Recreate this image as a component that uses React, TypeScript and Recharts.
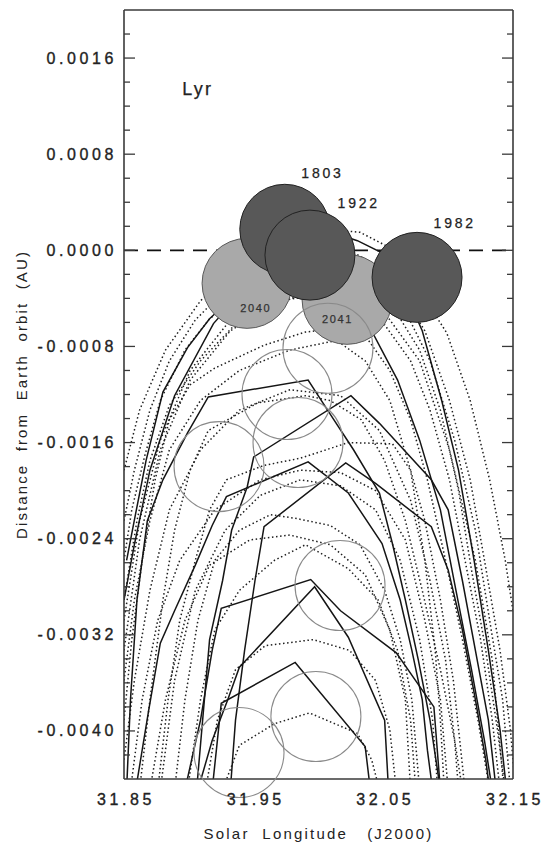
import React from 'react';
import { ComposedChart, Line, Scatter, XAxis, YAxis, ReferenceLine } from 'recharts';

const FONT = '"Liberation Sans", Arial, Helvetica, sans-serif';

// ---- axis ticks ----
const xLabelTicks = [31.85, 31.95, 32.05, 32.15];
const xMajorTicks = [31.9, 31.95, 32.0, 32.05, 32.1];
const xMinorTicks = [31.86, 31.87, 31.88, 31.89, 31.91, 31.92, 31.93, 31.94, 31.96, 31.97, 31.98, 31.99,
  32.01, 32.02, 32.03, 32.04, 32.06, 32.07, 32.08, 32.09, 32.11, 32.12, 32.13, 32.14];
const yLabelTicks = [-0.004, -0.0032, -0.0024, -0.0016, -0.0008, 0, 0.0008, 0.0016];
const yMinorTicks = [-0.0042, -0.0038, -0.0036, -0.0034, -0.003, -0.0028, -0.0026, -0.0022, -0.002, -0.0018,
  -0.0014, -0.0012, -0.001, -0.0006, -0.0004, -0.0002, 0.0002, 0.0004, 0.0006, 0.001, 0.0012, 0.0014, 0.0018];

const xDomain = [31.85, 32.15];
const yDomain = [-0.0044, 0.002];

// ---- circles (centres) ----
const darkCircles = [[31.974, 0.000175], [31.9934, -0.00004], [32.076, -0.000225]];
const lightCircles = [[31.9449, -0.000275], [32.022, -0.000408]];
const openCircles = [[32.0073, -0.000815], [31.9757, -0.0012], [31.9842, -0.0016], [31.9233, -0.0018],
  [32.0166, -0.00279], [31.998, -0.00388], [31.9387, -0.00418]];

// ---- labels ----
const titleLabel = [{ t: 'Lyr', x: 31.906, y: 0.00134 }];
const yearLabels = [{ t: '1803', x: 32.002, y: 0.00064 }, { t: '1922', x: 32.03, y: 0.00039 }, { t: '1982', x: 32.104, y: 0.00023 }];
const innerYearLabels = [{ t: '2040', x: 31.951, y: -0.00048 }, { t: '2041', x: 32.014, y: -0.00057 }];

// ---- solid trails ----
const s1 = [[31.852, -0.00258], [31.859, -0.00219], [31.867, -0.00175], [31.88, -0.00118], [31.899, -0.00081], [31.916, -0.00057], [31.937, -0.00036], [31.955, -0.00015], [31.991, 0.00022], [32.03, 0.00008], [32.049, -0.00002], [32.063, -0.00025], [32.08, -0.00067], [32.095, -0.00125], [32.108, -0.00183], [32.12, -0.00258], [32.131, -0.00333], [32.14, -0.00399], [32.145, -0.00449]];
const s2 = [[31.85, -0.00291], [31.858, -0.00245], [31.87, -0.00183], [31.889, -0.00121], [31.919, -0.00061], [31.947, -0.00027], [31.991, -0.00022], [32.02, -0.00042], [32.041, -0.00067], [32.061, -0.00108], [32.078, -0.00158], [32.094, -0.00216], [32.106, -0.00283], [32.118, -0.00349], [32.128, -0.00408], [32.134, -0.00449]];
const s3 = [[31.852, -0.00449], [31.855, -0.00374], [31.86, -0.00291], [31.868, -0.00225], [31.88, -0.00191], [31.899, -0.00152], [31.915, -0.00122], [31.992, -0.00108], [32.007, -0.00133], [32.027, -0.00166], [32.047, -0.00202], [32.057, -0.00244], [32.067, -0.00291], [32.077, -0.00341], [32.086, -0.00391], [32.094, -0.00449]];
const s4 = [[31.906, -0.00449], [31.916, -0.00324], [31.926, -0.00275], [31.933, -0.00233], [31.945, -0.00197], [31.95, -0.00172], [32.025, -0.00121], [32.047, -0.00144], [32.087, -0.00191], [32.1, -0.00216], [32.111, -0.00275], [32.121, -0.00333], [32.131, -0.00391], [32.137, -0.00449]];
const s5 = [[31.859, -0.00449], [31.869, -0.00383], [31.878, -0.00327], [31.889, -0.003], [31.905, -0.00262], [31.918, -0.00229], [31.929, -0.00205], [31.992, -0.00176], [32.023, -0.00202], [32.049, -0.00244], [32.063, -0.00291], [32.072, -0.00333], [32.08, -0.00374], [32.084, -0.00416], [32.088, -0.00449]];
const s6 = [[31.932, -0.00449], [31.936, -0.00391], [31.943, -0.00333], [31.951, -0.00275], [31.958, -0.0023], [32.021, -0.00177], [32.044, -0.00194], [32.087, -0.0023], [32.1, -0.00266], [32.111, -0.00316], [32.121, -0.00374], [32.129, -0.00424], [32.132, -0.00449]];
const s7 = [[31.897, -0.00449], [31.909, -0.00391], [31.918, -0.00333], [31.925, -0.00298], [31.994, -0.00274], [32.017, -0.003], [32.06, -0.00335], [32.089, -0.0038], [32.094, -0.00449]];
const s8 = [[31.907, -0.00449], [31.918, -0.00408], [31.93, -0.00374], [31.939, -0.00347], [31.997, -0.0028], [32.023, -0.00322], [32.051, -0.00391], [32.054, -0.00449]];
const s9 = [[31.918, -0.00449], [31.922, -0.00408], [31.925, -0.00377], [31.982, -0.00343], [32.036, -0.00413], [32.04, -0.00449]];

// ---- dotted trails ----
const d1 = [[31.85, -0.00225], [31.858, -0.00183], [31.87, -0.00133], [31.885, -0.00092], [31.905, -0.00058], [31.928, -0.00033], [31.955, -0.0001], [31.982, 0.00004], [32.001, 0.00008], [32.024, 0.0], [32.044, -0.00012], [32.063, -0.00033], [32.082, -0.00067], [32.101, -0.00125], [32.117, -0.00191], [32.128, -0.00258], [32.14, -0.00333], [32.148, -0.00399], [32.152, -0.00449]];
const d2 = [[31.85, -0.00258], [31.856, -0.00216], [31.866, -0.00171], [31.878, -0.00125], [31.897, -0.00083], [31.916, -0.00057], [31.939, -0.00037], [31.97, -0.00021], [31.993, -0.0001], [32.017, -0.00015], [32.04, -0.00029], [32.059, -0.0005], [32.078, -0.00083], [32.094, -0.00133], [32.108, -0.002], [32.118, -0.00266], [32.129, -0.00333], [32.138, -0.00399], [32.144, -0.00449]];
const d3 = [[31.85, -0.00291], [31.86, -0.00225], [31.87, -0.00175], [31.885, -0.00129], [31.909, -0.00092], [31.939, -0.00058], [31.97, -0.00042], [32.001, -0.00037], [32.028, -0.00046], [32.051, -0.00062], [32.071, -0.00092], [32.086, -0.00133], [32.101, -0.00191], [32.113, -0.00258], [32.125, -0.00324], [32.134, -0.00391], [32.14, -0.00449]];
const d4 = [[31.85, -0.00391], [31.856, -0.00324], [31.864, -0.00258], [31.874, -0.00191], [31.885, -0.00141], [31.901, -0.00112], [31.92, -0.00098], [31.958, -0.00079], [31.99, -0.00068], [32.023, -0.00064], [32.034, -0.00068], [32.055, -0.001], [32.071, -0.00141], [32.084, -0.00191], [32.098, -0.00258], [32.111, -0.00324], [32.123, -0.00391], [32.132, -0.00449]];
const d5 = [[31.862, -0.00449], [31.87, -0.00374], [31.88, -0.00291], [31.889, -0.00233], [31.901, -0.00183], [31.915, -0.0015], [31.953, -0.00127], [31.99, -0.00121], [32.009, -0.00125], [32.033, -0.00141], [32.051, -0.00175], [32.067, -0.00225], [32.08, -0.00283], [32.094, -0.00349], [32.105, -0.00408], [32.111, -0.00449]];
const d6 = [[31.876, -0.00449], [31.884, -0.00374], [31.893, -0.00308], [31.905, -0.00258], [31.916, -0.00216], [31.929, -0.00191], [31.958, -0.00179], [31.986, -0.00173], [32.023, -0.0016], [32.057, -0.00161], [32.071, -0.00183], [32.082, -0.00225], [32.094, -0.00291], [32.104, -0.00358], [32.113, -0.00449]];
const d7 = [[31.889, -0.00449], [31.897, -0.00374], [31.907, -0.00308], [31.92, -0.00258], [31.939, -0.00233], [31.963, -0.0022], [31.982, -0.00223], [32.009, -0.00229], [32.032, -0.00245], [32.051, -0.00283], [32.063, -0.00324], [32.072, -0.00374], [32.078, -0.00449]];
const d8 = [[31.899, -0.00449], [31.909, -0.00374], [31.92, -0.00316], [31.939, -0.00283], [31.966, -0.00258], [31.99, -0.00245], [32.023, -0.00265], [32.046, -0.00291], [32.061, -0.00333], [32.071, -0.00391], [32.075, -0.00449]];
const d9 = [[31.913, -0.00449], [31.922, -0.00391], [31.936, -0.00349], [31.959, -0.00329], [31.996, -0.00324], [32.024, -0.00333], [32.044, -0.00358], [32.055, -0.00399], [32.06, -0.00449]];
const d10 = [[31.926, -0.00449], [31.939, -0.00412], [31.966, -0.00394], [31.993, -0.00385], [32.03, -0.00402], [32.041, -0.00424], [32.047, -0.00449]];
const d11 = [[31.85, -0.00183], [31.862, -0.00133], [31.882, -0.00083], [31.909, -0.00042], [31.939, -0.00012], [31.97, 0.00008], [32.001, 0.00018], [32.032, 0.00015], [32.059, 0.0], [32.078, -0.00033], [32.099, -0.00069], [32.117, -0.00125], [32.132, -0.00191], [32.144, -0.00258], [32.15, -0.003]];
const d12 = [[31.85, -0.00358], [31.858, -0.00291], [31.87, -0.00225], [31.885, -0.00166], [31.909, -0.00125], [31.939, -0.001], [31.978, -0.00083], [32.014, -0.00075], [32.036, -0.00092], [32.055, -0.00125], [32.071, -0.00183], [32.082, -0.00258], [32.09, -0.00333], [32.094, -0.00391], [32.097, -0.00449]];
const d13 = [[31.85, -0.00333], [31.862, -0.00241], [31.878, -0.00166], [31.901, -0.00108], [31.932, -0.00067], [31.97, -0.00042], [32.009, -0.00033], [32.047, -0.00046], [32.078, -0.00092], [32.101, -0.00166], [32.121, -0.00258], [32.134, -0.00341], [32.143, -0.00449]];
const d14 = [[31.878, -0.00449], [31.889, -0.00358], [31.905, -0.00283], [31.928, -0.00233], [31.955, -0.00204], [31.986, -0.00191], [32.017, -0.00196], [32.044, -0.00216], [32.063, -0.00258], [32.078, -0.00324], [32.088, -0.00391], [32.092, -0.00449]];
const d15 = [[31.85, -0.00308], [31.862, -0.00225], [31.878, -0.00158], [31.901, -0.001], [31.932, -0.00058], [31.97, -0.00029], [32.009, -0.00012], [32.04, -0.00017], [32.063, -0.00042], [32.086, -0.00092], [32.105, -0.00158], [32.121, -0.00233], [32.132, -0.00308], [32.142, -0.00374], [32.148, -0.00449]];
const d16 = [[31.85, -0.00424], [31.858, -0.00358], [31.87, -0.00283], [31.885, -0.00216], [31.909, -0.00166], [31.939, -0.00133], [31.978, -0.00116], [32.017, -0.00121], [32.047, -0.0015], [32.071, -0.00208], [32.086, -0.00275], [32.098, -0.00341], [32.105, -0.00408], [32.108, -0.00449]];
const d17 = [[31.87, -0.00449], [31.882, -0.00374], [31.897, -0.00308], [31.916, -0.00262], [31.947, -0.00241], [31.978, -0.00237], [32.009, -0.00245], [32.036, -0.0027], [32.055, -0.00316], [32.067, -0.00374], [32.071, -0.00449]];
const d18 = [[31.855, -0.00449], [31.864, -0.00374], [31.876, -0.00308], [31.893, -0.00258], [31.92, -0.00216], [31.955, -0.00191], [31.986, -0.00183], [32.017, -0.00185], [32.044, -0.002], [32.067, -0.00241], [32.082, -0.00308], [32.094, -0.00374], [32.1, -0.00449]];

const solidSeries = [s1, s2, s3, s4, s5, s6, s7, s8, s9];
const dottedSeries = [d1, d2, d3, d4, d5, d6, d7, d8, d9, d10, d11, d12, d13, d14, d15, d16, d17, d18];

const toPts = (a: number[][]) => a.map(([x, y]) => ({ x, y }));

const FRAME = '#3a3a3a';
const xMajorSet = new Set(xMajorTicks);
const yMajorSet = new Set(yLabelTicks);

const xTickMark = (dir: number) => (p: any) => {
  const len = xMajorSet.has(p.payload.value) ? 11 : 6;
  return <line x1={p.x} y1={p.y} x2={p.x} y2={p.y + dir * len} stroke={FRAME} strokeWidth={1.3} />;
};
const yTickMark = (dir: number) => (p: any) => {
  const len = yMajorSet.has(p.payload.value) ? 11 : 6;
  return <line x1={p.x} y1={p.y} x2={p.x + dir * len} y2={p.y} stroke={FRAME} strokeWidth={1.3} />;
};

const yLabelTick = (p: any) => (
  <text x={p.x} y={p.y} textAnchor="end" dominantBaseline="central" fontFamily={FONT} fontSize={16}
    letterSpacing={3.6} fill="#222" stroke="#222" strokeWidth={0.35}>{Number(p.payload.value).toFixed(4)}</text>
);
const xLabelTick = (p: any) => (
  <text x={p.x} y={p.y} dx={2} textAnchor="middle" dominantBaseline="central" fontFamily={FONT} fontSize={16}
    letterSpacing={3.6} fill="#222" stroke="#222" strokeWidth={0.35}>{Number(p.payload.value).toFixed(2)}</text>
);

const textShape = (size: number, color: string, ls: number) => (p: any) => (
  <text x={p.cx} y={p.cy} dx={ls / 2} textAnchor="middle" dominantBaseline="central" fontFamily={FONT}
    fontSize={size} letterSpacing={ls} fill={color} stroke={color} strokeWidth={0.25}>{p.payload.t}</text>
);

const circleShape = (fill: string, stroke: string) => (p: any) => (
  <circle cx={p.cx} cy={p.cy} r={45} fill={fill} stroke={stroke} strokeWidth={1} />
);

export default function App() {
  return (
    <div style={{ position: 'absolute', left: 0, top: 0, width: 545, height: 848, background: '#fff' }}>
      <ComposedChart width={545} height={848} margin={{ top: 10, right: 32, bottom: 0, left: 0 }}>
        {/* main labelled axes */}
        <XAxis xAxisId="x" dataKey="x" type="number" domain={xDomain} allowDataOverflow ticks={xLabelTicks}
          interval={0} height={69} tickLine={false} tickSize={0} tickMargin={20} tick={xLabelTick}
          axisLine={{ stroke: FRAME, strokeWidth: 1.6 }}
          label={(lp: any) => {
            const vb = lp.viewBox || {};
            return (
              <text x={vb.x + vb.width / 2} y={vb.y + 54} textAnchor="middle" dominantBaseline="central"
                fontFamily={FONT} fontSize={15} letterSpacing={2.2} fill="#222" style={{ whiteSpace: 'pre' }}>
                {'Solar  Longitude   (J2000)'}
              </text>
            );
          }} />
        <YAxis yAxisId="y" dataKey="y" type="number" domain={yDomain} allowDataOverflow ticks={yLabelTicks}
          interval={0} width={124} tickLine={false} tickSize={0} tickMargin={7} tick={yLabelTick}
          axisLine={{ stroke: FRAME, strokeWidth: 1.6 }}
          label={(lp: any) => {
            const vb = lp.viewBox || {};
            const cx = vb.x + 21;
            const cy = vb.y + vb.height / 2;
            return (
              <text x={cx} y={cy} textAnchor="middle" dominantBaseline="central" transform={`rotate(-90 ${cx} ${cy})`}
                fontFamily={FONT} fontSize={15} letterSpacing={2.1} fill="#222" style={{ whiteSpace: 'pre' }}>
                {'Distance  from  Earth  orbit  (AU)'}
              </text>
            );
          }} />

        {/* inward tick marks on all four sides */}
        <XAxis xAxisId="tb" orientation="bottom" mirror height={1} type="number" domain={xDomain} allowDataOverflow
          ticks={[...xMajorTicks, ...xMinorTicks]} interval={0} tickLine={false} tickSize={0} tickMargin={0}
          axisLine={false} tick={xTickMark(-1)} />
        <XAxis xAxisId="tt" orientation="top" mirror height={1} type="number" domain={xDomain} allowDataOverflow
          ticks={[...xMajorTicks, ...xMinorTicks]} interval={0} tickLine={false} tickSize={0} tickMargin={0}
          axisLine={{ stroke: FRAME, strokeWidth: 1.6 }} tick={xTickMark(1)} />
        <YAxis yAxisId="tl" orientation="left" mirror width={1} type="number" domain={yDomain} allowDataOverflow
          ticks={[...yLabelTicks, ...yMinorTicks]} interval={0} tickLine={false} tickSize={0} tickMargin={0}
          axisLine={false} tick={yTickMark(1)} />
        <YAxis yAxisId="tr" orientation="right" mirror width={1} type="number" domain={yDomain} allowDataOverflow
          ticks={[...yLabelTicks, ...yMinorTicks]} interval={0} tickLine={false} tickSize={0} tickMargin={0}
          axisLine={{ stroke: FRAME, strokeWidth: 1.6 }} tick={yTickMark(-1)} />

        {/* hidden axes for circles and labels (not clipped) */}
        <XAxis xAxisId="s" dataKey="x" type="number" domain={xDomain} hide height={0} />
        <YAxis yAxisId="s" dataKey="y" type="number" domain={yDomain} hide width={0} />

        <Scatter data={toPts(lightCircles)} xAxisId="s" yAxisId="s" isAnimationActive={false}
          shape={circleShape('#a9a9a9', '#5a5a5a')} />
        <Scatter data={toPts(darkCircles)} xAxisId="s" yAxisId="s" isAnimationActive={false}
          shape={circleShape('#585858', '#222')} />
        <Scatter data={toPts(openCircles)} xAxisId="s" yAxisId="s" isAnimationActive={false}
          shape={(p: any) => <circle cx={p.cx} cy={p.cy} r={45} fill="none" stroke="#8a8a8a" strokeWidth={1.1} />} />

        {dottedSeries.map((d, i) => (
          <Line key={'d' + i} data={toPts(d)} dataKey="y" xAxisId="x" yAxisId="y" type="linear" stroke="#1e1e1e"
            strokeWidth={1.5} strokeDasharray="1.5 2.6" dot={false} activeDot={false} isAnimationActive={false} />
        ))}
        {solidSeries.map((d, i) => (
          <Line key={'s' + i} data={toPts(d)} dataKey="y" xAxisId="x" yAxisId="y" type="linear" stroke="#151515"
            strokeWidth={1.5} dot={false} activeDot={false} isAnimationActive={false} />
        ))}

        <ReferenceLine y={0} xAxisId="x" yAxisId="y" stroke="#111" strokeWidth={1.7} strokeDasharray="14 9" />

        <Scatter data={titleLabel} xAxisId="s" yAxisId="s" isAnimationActive={false} shape={textShape(18, '#222', 2.2)} />
        <Scatter data={yearLabels} xAxisId="s" yAxisId="s" isAnimationActive={false} shape={textShape(14, '#222', 2.8)} />
        <Scatter data={innerYearLabels} xAxisId="s" yAxisId="s" isAnimationActive={false} shape={textShape(11, '#333', 1.6)} />
      </ComposedChart>
    </div>
  );
}
